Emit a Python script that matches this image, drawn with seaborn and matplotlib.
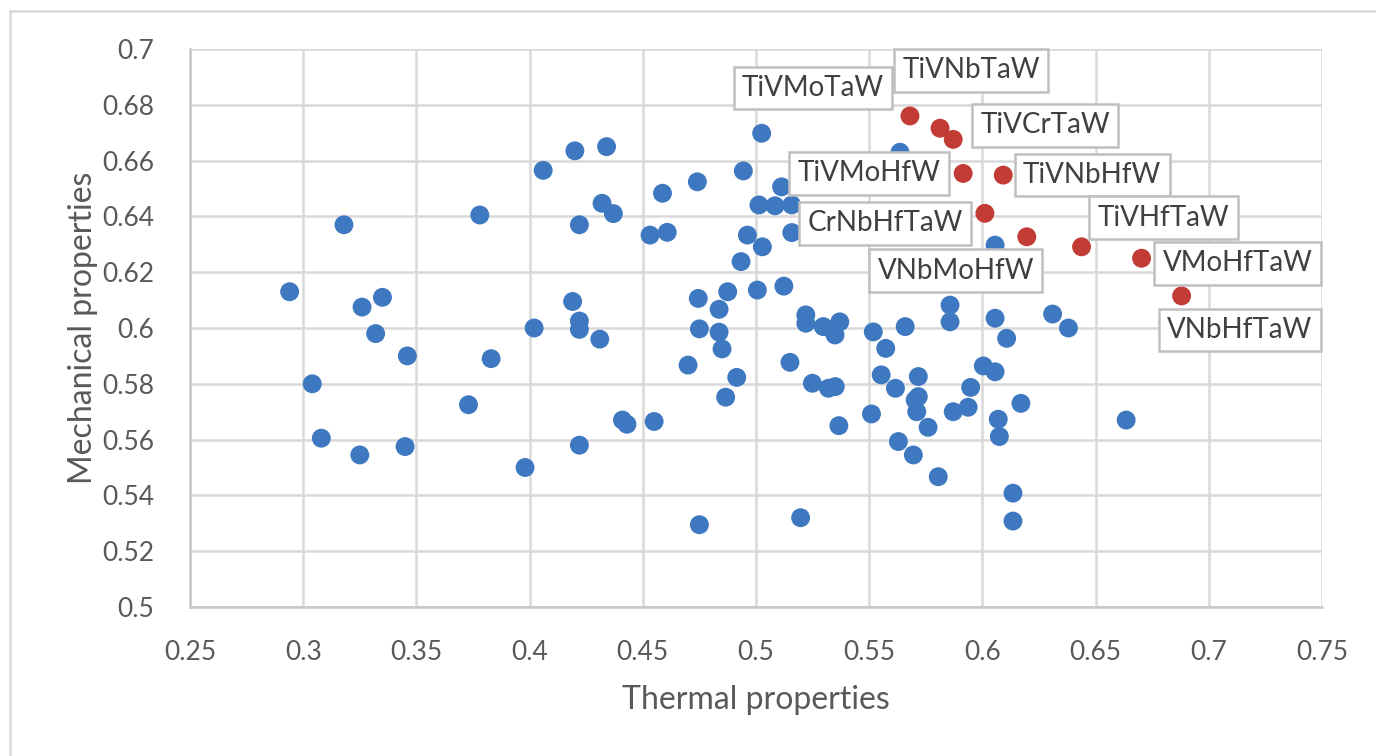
import matplotlib
matplotlib.use("Agg")
import matplotlib.pyplot as plt
import seaborn as sns
import pandas as pd
from matplotlib.lines import Line2D

# ---- data ----
blue_x = [0.294, 0.304, 0.308, 0.318, 0.326, 0.325, 0.335, 0.332, 0.346, 0.345,
          0.373, 0.378, 0.383, 0.398, 0.402, 0.406, 0.420, 0.419, 0.422, 0.422,
          0.422, 0.422, 0.434, 0.432, 0.437, 0.431, 0.441, 0.443, 0.455, 0.4587,
          0.4532, 0.4608, 0.4741, 0.4745, 0.475, 0.470, 0.475, 0.4837, 0.4837, 0.485,
          0.4875, 0.4866, 0.4915, 0.4944, 0.4962, 0.4934, 0.5013, 0.5006, 0.5025, 0.5028,
          0.5084, 0.5113, 0.5123, 0.5158, 0.5158, 0.515, 0.5197, 0.522, 0.522, 0.5249,
          0.5297, 0.532, 0.535, 0.5349, 0.537, 0.5366, 0.551, 0.5518, 0.5553, 0.5573,
          0.5616, 0.5629, 0.5659, 0.5636, 0.5717, 0.5717, 0.5703, 0.571, 0.576, 0.5695,
          0.5805, 0.5857, 0.5857, 0.5871, 0.5937, 0.5948, 0.6004, 0.6056, 0.6056, 0.6107,
          0.6056, 0.607, 0.6075, 0.6135, 0.6135, 0.617, 0.631, 0.638, 0.6635]
blue_y = [0.613, 0.580, 0.5605, 0.637, 0.6075, 0.5545, 0.611, 0.598, 0.590, 0.5575,
          0.5725, 0.6405, 0.589, 0.550, 0.600, 0.6565, 0.6635, 0.6095, 0.637, 0.6025,
          0.5995, 0.558, 0.665, 0.6447, 0.641, 0.596, 0.567, 0.5655, 0.5665, 0.6483,
          0.6333, 0.6343, 0.6524, 0.6106, 0.5997, 0.5867, 0.5295, 0.6067, 0.5985, 0.5925,
          0.613, 0.5752, 0.5823, 0.6563, 0.6333, 0.6238, 0.6441, 0.6136, 0.6698, 0.6291,
          0.6438, 0.6506, 0.615, 0.6441, 0.6342, 0.5877, 0.532, 0.6047, 0.6017, 0.5802,
          0.6005, 0.5784, 0.579, 0.5975, 0.6022, 0.565, 0.5692, 0.5986, 0.5832, 0.5927,
          0.5784, 0.5593, 0.6005, 0.663, 0.5826, 0.5754, 0.5742, 0.570, 0.5644, 0.5545,
          0.5467, 0.6082, 0.6022, 0.570, 0.5716, 0.5787, 0.5864, 0.5843, 0.6035, 0.5963,
          0.6297, 0.5673, 0.5611, 0.5408, 0.5308, 0.573, 0.605, 0.600, 0.567]

red_names = ["TiVMoTaW", "TiVNbTaW", "TiVCrTaW", "TiVMoHfW", "TiVNbHfW",
             "CrNbHfTaW", "VNbMoHfW", "TiVHfTaW", "VMoHfTaW", "VNbHfTaW"]
red_x = [0.568, 0.5813, 0.5871, 0.5915, 0.6092, 0.6011, 0.6196, 0.6438, 0.6703, 0.688]
red_y = [0.676, 0.6716, 0.6676, 0.6554, 0.6548, 0.6411, 0.6327, 0.6291, 0.625, 0.6115]

x_ticks = [0.25, 0.3, 0.35, 0.4, 0.45, 0.5, 0.55, 0.6, 0.65, 0.7, 0.75]
x_tick_labels = ["0.25", "0.3", "0.35", "0.4", "0.45", "0.5", "0.55", "0.6", "0.65", "0.7", "0.75"]
y_ticks = [0.5, 0.52, 0.54, 0.56, 0.58, 0.6, 0.62, 0.64, 0.66, 0.68, 0.7]
y_tick_labels = ["0.5", "0.52", "0.54", "0.56", "0.58", "0.6", "0.62", "0.64", "0.66", "0.68", "0.7"]

x_label = "Thermal properties"
y_label = "Mechanical properties"

# label offsets in pixels (layout only)
label_dx = [-97, 31, 92, -94, 89, -100, -71, 82, 96, 58]
label_dy = [28, 58, 14, 0, 0, -10, -34, 29, -5, -34]

# ---- figure ----
sns.set_theme(style="white")
plt.rcParams['font.family'] = ['Lato', 'DejaVu Sans']

df = pd.DataFrame({
    "x": blue_x + red_x,
    "y": blue_y + red_y,
    "group": ["other"] * len(blue_x) + ["top"] * len(red_x),
})

fig = plt.figure(figsize=(13.76, 7.56), dpi=100)
fig.patch.set_facecolor("white")
# chart frame (top and left edges visible)
fig.add_artist(Line2D([10 / 1376, 10 / 1376], [0, 745 / 756], transform=fig.transFigure,
                      color="#d9d9d9", linewidth=1.8))
fig.add_artist(Line2D([10 / 1376, 1], [745 / 756, 745 / 756], transform=fig.transFigure,
                      color="#d9d9d9", linewidth=1.8))
ax = fig.add_axes([190 / 1376, 149 / 756, 1132 / 1376, 558 / 756])

sns.scatterplot(data=df, x="x", y="y", hue="group",
                palette={"other": "#3E78C0", "top": "#C23B34"},
                s=185, edgecolor="none", legend=False, ax=ax, zorder=3)

ax.set_xlim(0.25, 0.75)
ax.set_ylim(0.5, 0.7)
ax.set_xticks(x_ticks)
ax.set_xticklabels(x_tick_labels)
ax.set_yticks(y_ticks)
ax.set_yticklabels(y_tick_labels)
ax.grid(True, color="#d9d9d9", linewidth=1.8, zorder=0)
ax.set_axisbelow(True)
for side in ["top", "right"]:
    ax.spines[side].set_visible(False)
for side in ["left", "bottom"]:
    ax.spines[side].set_color("#c8c8c8")
    ax.spines[side].set_linewidth(1.8)
ax.tick_params(axis="both", length=0, labelsize=19, labelcolor="#595959")
ax.tick_params(axis="x", pad=24)
ax.tick_params(axis="y", pad=26)
ax.set_xlabel(x_label, fontsize=23, color="#595959", labelpad=14)
ax.set_ylabel(y_label, fontsize=23, color="#595959", labelpad=3)

for name, px, py, dx, dy in zip(red_names, red_x, red_y, label_dx, label_dy):
    ax.annotate(name, xy=(px, py), xytext=(dx, dy), textcoords="offset pixels",
                ha="center", va="center", fontsize=20, color="#404040", zorder=5,
                bbox=dict(boxstyle="square,pad=0.3", facecolor="white",
                          edgecolor="#bfbfbf", linewidth=1.8))

fig.savefig("out.png", dpi=100, facecolor="white")
